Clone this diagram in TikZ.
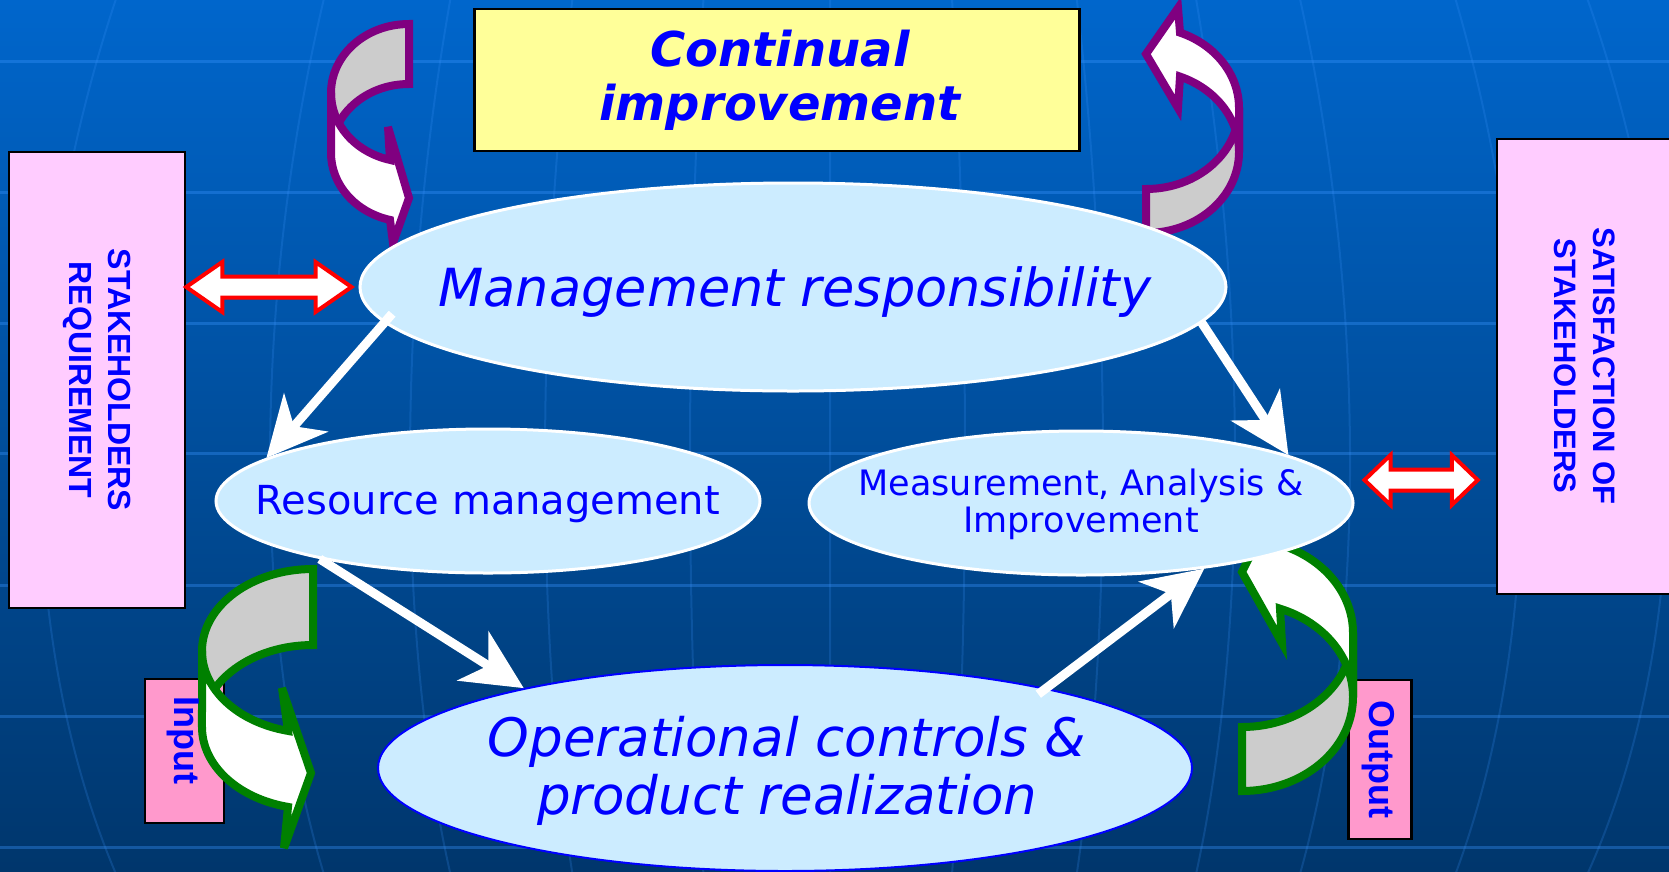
\documentclass[tikz,border=0pt]{standalone}
\usepackage{fontspec}
\setmainfont{DejaVu Sans}
\newfontfamily\verd{DejaVu Sans}[ItalicFont={DejaVu Sans Oblique},BoldFont={DejaVu Sans Bold},BoldItalicFont={DejaVu Sans Bold Oblique}]
\newfontfamily\arialb{Liberation Sans}
\usetikzlibrary{arrows.meta,shapes.geometric,calc}
\definecolor{bgtop}{RGB}{0,102,204}
\definecolor{bgbot}{RGB}{0,54,108}
\definecolor{gridc}{RGB}{60,150,255}
\definecolor{ellfill}{RGB}{204,236,255}
\definecolor{txtblue}{RGB}{0,0,255}
\definecolor{pinkbox}{RGB}{255,204,255}
\definecolor{iobox}{RGB}{255,153,204}
\definecolor{yellowbox}{RGB}{255,255,153}
\definecolor{purp}{RGB}{128,0,128}
\definecolor{grn}{RGB}{0,128,0}
\definecolor{greyfill}{RGB}{204,204,204}
% curved block arrow: #1 transform, #2 colour, #3 rx, #4 ry, #5 band, #6 head x, #7 barb1, #8 tip, #9 barb2
\newcommand\curvarr[9]{%
\begin{scope}[#1, line width=8pt, line join=miter, miter limit=6]
\filldraw[draw=#2, fill=greyfill] (0,0) arc[start angle=-90, end angle=-180, x radius=#3, y radius=#4] -- ++(0,#5) arc[start angle=180, end angle=270, x radius=#3, y radius=#4] -- cycle;
\filldraw[draw=#2, fill=white] (-#3,#4) arc[start angle=180, end angle={acos(#6/#3)}, x radius=#3, y radius=#4] -- #7 -- #8 -- #9 -- ({#6},{#4+#5+#4*sin(acos(#6/#3))}) arc[start angle={acos(#6/#3)}, end angle=180, x radius=#3, y radius=#4] -- cycle;
\end{scope}}
% double block arrow: #1 start, #2 end, #3 head length, #4 half head height, #5 half shaft height
\newcommand\dblarr[5]{%
\filldraw[redArr] let \p1=#1, \p2=#2 in
 (\x1,\y1) -- (\x1+#3pt,\y1+#4pt) -- (\x1+#3pt,\y1+#5pt) -- (\x2-#3pt,\y2+#5pt) -- (\x2-#3pt,\y2+#4pt) -- (\x2,\y2)
 -- (\x2-#3pt,\y2-#4pt) -- (\x2-#3pt,\y2-#5pt) -- (\x1+#3pt,\y1-#5pt) -- (\x1+#3pt,\y1-#4pt) -- cycle;}
\begin{document}
\begin{tikzpicture}[x=1pt, y=-1pt,
  ell/.style={ellipse, fill=ellfill, draw=white, line width=3pt, inner sep=0pt},
  elltext/.style={text=txtblue, align=center, inner sep=0pt},
  boxst/.style={draw=black, line width=2.5pt, inner sep=0pt},
  wArrow/.style={draw=white, line width=9pt, -{Stealth[length=60pt, width=58pt, inset=18pt]}},
  redArr/.style={draw=red, fill=white, line width=4pt, line join=miter},
  gridline/.style={draw=gridc, line width=3pt, opacity=0.35},
  meridian/.style={draw=gridc, line width=2pt, opacity=0.2}]
\clip (0,0) rectangle (1669,871);
\shade[top color=bgtop, bottom color=bgbot] (0,0) rectangle (1669,871);
% background grid
\foreach \yy in {61,192,323,453,585,716,847} \draw[gridline] (0,\yy) -- (1669,\yy);
\foreach \m in {40,270,410,545,690,830,965,1103,1235,1350,1522,1668} {
  \pgfmathsetmacro\E{\m-0.1*(\m-830)}
  \pgfmathsetmacro\C{(\m-0.25*\E)/0.75}
  \draw[meridian] (\E,-10) .. controls (\C,300) and (\C,640) .. (\E,881);
}
% boxes
\node[boxst, fill=yellowbox, minimum width=605pt, minimum height=142pt] (cont) at (777,80) {};
\node[boxst, fill=pinkbox, minimum width=176pt, minimum height=456pt] (stake) at (97,380) {};
\node[boxst, fill=pinkbox, minimum width=176pt, minimum height=455pt] (sat) at (1585,366.5) {};
\node[boxst, fill=iobox, minimum width=79pt, minimum height=144pt] (in) at (184.5,751) {};
\node[boxst, fill=iobox, minimum width=63pt, minimum height=159pt] (out) at (1380,759.5) {};
% curved arrows
\curvarr{shift={(409,24)}}{purp}{78}{69}{60}{-19}{(-21,103)}{(0,174)}{(-16,219)}
\curvarr{shift={(1146,233)}, rotate=180}{purp}{93}{81}{44}{-34}{(-32,125)}{(0,179)}{(-32,225)}
\curvarr{shift={(313,569)}}{grn}{111}{82}{76}{-25}{(-31,119)}{(-2,204)}{(-29,279)}
\curvarr{shift={(1242,791)}, rotate=180}{grn}{111}{94}{64}{-38}{(-40,148)}{(0,219)}{(-40,300)}
% ellipses
\node[ell, minimum width=866pt, minimum height=208pt] (mgmt) at (793,287) {};
\node[ell, minimum width=544pt, minimum height=144pt] (res) at (488,501) {};
\node[ell, minimum width=544pt, minimum height=144pt] (meas) at (1081,503) {};
\node[ell, draw=blue, line width=2pt, minimum width=814pt, minimum height=206pt] (op) at (785,768) {};
% texts
\node[elltext, font=\verd\bfseries\itshape\fontsize{48pt}{54pt}\selectfont] (conttext) at ($(cont.center)+(3,0)$) {Continual\\improvement};
\node[elltext, anchor=base, font=\verd\itshape\fontsize{52.5pt}{58pt}\selectfont] (mgmttext) at (795,306.5) {Management responsibility};
\node[elltext, anchor=base, font=\verd\fontsize{40pt}{44pt}\selectfont] (restext) at (488,514) {Resource management};
\node[elltext, font=\verd\fontsize{35pt}{37pt}\selectfont] (meastext) at (1081,504.5) {Measurement, Analysis \&\\Improvement};
\node[elltext, font=\verd\itshape\fontsize{53pt}{58pt}\selectfont] (optext) at (787,771) {Operational controls \&\\product realization};
\node[elltext, rotate=-90, font=\arialb\bfseries\fontsize{32pt}{39pt}\selectfont] (staketext) at (97,380) {STAKEHOLDERS\\REQUIREMENT};
\node[elltext, rotate=-90, font=\arialb\bfseries\fontsize{31pt}{39pt}\selectfont] (sattext) at (1585,366) {SATISFACTION OF\\STAKEHOLDERS};
\node[elltext, rotate=-90, font=\arialb\bfseries\fontsize{36pt}{40pt}\selectfont] (intext) at (183,740) {Input};
\node[elltext, rotate=-90, font=\arialb\bfseries\fontsize{36pt}{40pt}\selectfont] (outtext) at (1378,759) {Output};
% white arrows
\draw[wArrow, shorten <=-12pt] (mgmt.185) -- (res.169);
\draw[wArrow] (res.199) -- (op.163);
\draw[wArrow] (mgmt.-5) -- (meas.13);
\draw[wArrow, shorten <=-10pt] (op.17) -- (meas.-28);
% red double arrows
\coordinate (ra1) at (stake.east |- mgmt.west);
\coordinate (ra2) at ($(mgmt.west)+(-7,0)$);
\dblarr{(ra1)}{(ra2)}{36}{25}{10.5}
\coordinate (rb1) at ($(meas.east)+(10,-23)$);
\coordinate (rb2) at ($(sat.west |- rb1)+(-18,0)$);
\dblarr{(rb1)}{(rb2)}{26}{25}{10.5}
\end{tikzpicture}
\end{document}
